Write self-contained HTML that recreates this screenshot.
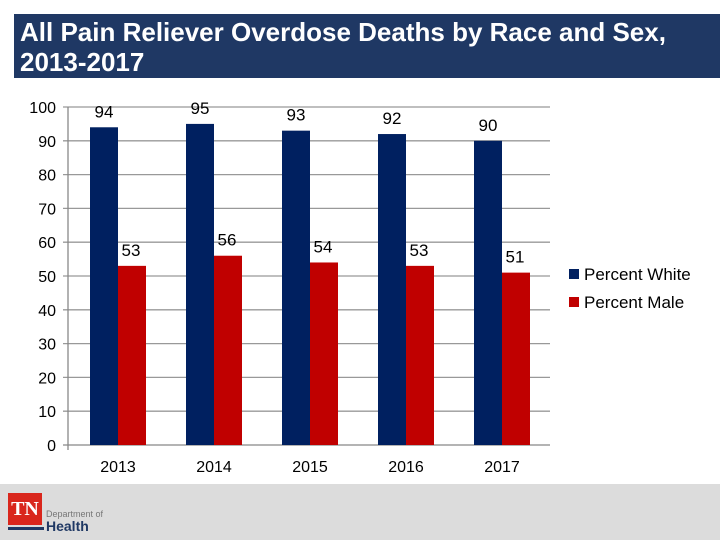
<!DOCTYPE html>
<html><head><meta charset="utf-8"><style>
body{margin:0;width:720px;height:540px;background:#fff;overflow:hidden;position:relative;font-family:"Liberation Sans",sans-serif}
#title{position:absolute;left:14px;top:14px;width:706px;height:64px;background:#1f3864;color:#fff;font-weight:bold;font-size:26px;line-height:30px;box-sizing:border-box;padding:3px 0 0 6px;white-space:nowrap}
#footer{position:absolute;left:0;top:484px;width:720px;height:56px;background:#dcdcdc}
</style></head><body>
<div id="title">All Pain Reliever Overdose Deaths by Race and Sex,<br>2013-2017</div>
<svg id="chart" width="720" height="484" style="position:absolute;left:0;top:0"></svg>
<div id="footer">
<div style="position:absolute;left:8px;top:9px;width:34px;height:32px;background:#d9261c;color:#fff;font-family:'Liberation Serif',serif;font-weight:bold;font-size:20px;line-height:32px;text-align:center">TN</div>
<div style="position:absolute;left:8px;top:43px;width:36px;height:3px;background:#1f3864"></div>
<div style="position:absolute;left:46px;top:25px;font-size:9px;color:#777">Department of</div>
<div style="position:absolute;left:46px;top:34px;font-size:14px;font-weight:bold;color:#1f3864">Health</div>
</div>
<script>
const categories=["2013","2014","2015","2016","2017"];
const percentWhite=[94,95,93,92,90];
const percentMale=[53,56,54,53,51];
const yTicks=[0,10,20,30,40,50,60,70,80,90,100];
const NS="http://www.w3.org/2000/svg";
const svg=document.getElementById('chart');
const x0=70,x1=550,y0=445,y1=107;
const y=v=>y0-(v/100)*(y0-y1);
const band=(x1-x0)/categories.length;
const cx=i=>x0+band*(i+0.5);
function mk(t,a,txt){const e=document.createElementNS(NS,t);for(const k in a)e.setAttribute(k,a[k]);if(txt!=null)e.textContent=txt;svg.appendChild(e);return e;}
yTicks.forEach(v=>{
  const g=mk('line',{x1:63,x2:x1,y1:y(v),y2:y(v),stroke:v===0?'#888':'#999','stroke-width':1.3});
  
  
  const t=mk('text',{x:56,y:y(v)+6,'text-anchor':'end','font-size':16,fill:'#000'},v);
  
  
});
const ax=mk('line',{x1:x0-2,x2:x0-2,y1:y1,y2:y0+5,stroke:'#888','stroke-width':1.3});


const bw=28;
categories.forEach((c,i)=>{
  const w=percentWhite[i],m=percentMale[i];
  const b1=mk('rect',{x:cx(i)-bw,y:y(w),width:bw,height:y0-y(w),fill:'#002060'});
  
  
  const b2=mk('rect',{x:cx(i),y:y(m),width:bw,height:y0-y(m),fill:'#c00000'});
  
  
  const l1=mk('text',{x:cx(i)-bw/2,y:y(w)-10,'text-anchor':'middle','font-size':17},w);
  
  
  const l2=mk('text',{x:cx(i)+bw/2-1,y:y(m)-10,'text-anchor':'middle','font-size':17},m);
  
  
  const xl=mk('text',{x:cx(i),y:472,'text-anchor':'middle','font-size':16},c);
  
  
});
[["Percent White","#002060",274],["Percent Male","#c00000",302]].forEach(([n,col,yy])=>{
  const s=mk('rect',{x:569,y:yy-5,width:10,height:10,fill:col});
  
  
  const t=mk('text',{x:584,y:yy+6,'font-size':17},n);
  
  
});
</script>
</body></html>
